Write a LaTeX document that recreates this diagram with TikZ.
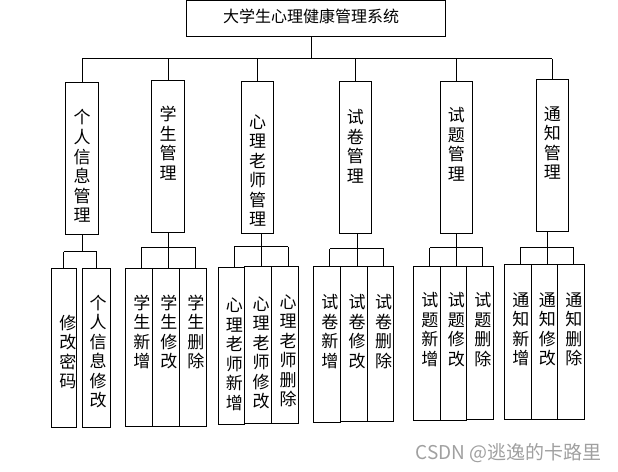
\documentclass[tikz,border=0pt]{standalone}
\usepackage{fontspec}
\newfontfamily\cjkfont{Noto Sans CJK SC}
\usetikzlibrary{positioning}
\definecolor{markgray}{HTML}{A0A0A0}

\tikzset{
  box/.style={draw, line width=1pt, inner sep=0pt},
  mod/.style={box, minimum width=32.5pt, minimum height=152pt},
  sub/.style={box, minimum width=27pt},
  vtext/.style={inner sep=0pt, align=center, font=\cjkfont\fontsize{17}{19.5}\selectfont},
  subtext/.style={vtext, xshift=3pt},
  titletext/.style={inner sep=0pt, font=\cjkfont\fontsize{16}{19}\selectfont},
  link/.style={line width=1pt},
}

\begin{document}
\begin{tikzpicture}[x=1pt,y=-1pt]
  \useasboundingbox (0,0) rectangle (618,471);

  % system
  \node[box, minimum width=259.5pt, minimum height=35.5pt] (sys) at (315.75,18.25) {};
  \node[titletext] (sys-t) at (311,16) {大学生心理健康管理系统};

  % modules
  \node[mod, minimum width=33.4pt] (gr) at (82,158) {};
  \node[mod, minimum width=33.4pt] (xs) at (168,156.5) {};
  \node[mod] (ls) at (257.5,157) {};
  \node[mod, minimum width=32pt] (sj) at (355.3,157) {};
  \node[mod, minimum width=32pt] (st) at (456.3,157) {};
  \node[mod, minimum width=32pt] (tz) at (552.3,155) {};

  \node[vtext, below=28pt of gr.north] (gr-t) {个\\人\\信\\息\\管\\理};
  \node[vtext, below=26pt of xs.north] (xs-t) {学\\生\\管\\理};
  \node[vtext, below=34pt of ls.north] (ls-t) {心\\理\\老\\师\\管\\理};
  \node[vtext, below=29pt of sj.north] (sj-t) {试\\卷\\管\\理};
  \node[vtext, below=27pt of st.north] (st-t) {试\\题\\管\\理};
  \node[vtext, below=28pt of tz.north] (tz-t) {通\\知\\管\\理};

  \path (sys.south) ++(0,22.3) coordinate (bus0);
  \draw[link] (sys-t |- sys.south) -- (sys-t |- bus0);
  \draw[link] (gr.north |- bus0) -- (tz.north |- bus0);
  \foreach \m in {gr,xs,ls,sj,st,tz}
    \draw[link] (\m.north |- bus0) -- (\m.north);

  % personal info
  \node[sub, minimum width=25pt, minimum height=159pt] (gr1) at (63.8,347.8) {};
  \node[sub, minimum width=27.6pt, minimum height=159pt] (gr2) at (96.5,347.8) {};
  \node[vtext, xshift=4pt, below=47pt of gr1.north] (gr1-t) {修\\改\\密\\码};
  \node[vtext, xshift=1.5pt, below=27pt of gr2.north] (gr2-t) {个\\人\\信\\息\\修\\改};
  \path (gr.south) ++(0,17.3) coordinate (grb);
  \draw[link] (gr.south) -- (grb);
  \draw[link] (gr1.north |- grb) -- (gr2.north |- grb);
  \foreach \c in {gr1,gr2}
    \draw[link] (\c.north |- grb) -- (\c.north);

  % students
  \node[sub, minimum height=158pt] (xs1) at (138.8,347) {};
  \node[sub, minimum height=158pt] (xs2) at (165.8,347) {};
  \node[sub, minimum height=158pt] (xs3) at (192.8,347) {};
  \node[subtext, below=27pt of xs1.north] (xs1-t) {学\\生\\新\\增};
  \node[subtext, below=27pt of xs2.north] (xs2-t) {学\\生\\修\\改};
  \node[subtext, below=27pt of xs3.north] (xs3-t) {学\\生\\删\\除};
  \path (xs.south) ++(0,14) coordinate (xsb);

  % teachers
  \node[sub, minimum width=26pt, minimum height=156.7pt] (ls1) at (231.3,345.65) {};
  \node[sub, minimum width=27.4pt, minimum height=157.3pt] (ls2) at (258,344.65) {};
  \node[sub, minimum width=26.6pt, minimum height=157.3pt] (ls3) at (285,344.65) {};
  \node[subtext, below=31pt of ls1.north] (ls1-t) {心\\理\\老\\师\\新\\增};
  \node[subtext, below=30.7pt of ls2.north] (ls2-t) {心\\理\\老\\师\\修\\改};
  \node[subtext, below=29pt of ls3.north] (ls3-t) {心\\理\\老\\师\\删\\除};
  \path (ls.south) ++(0,13) coordinate (lsb);

  % papers
  \node[sub, minimum height=156.3pt] (sj1) at (326.8,344.15) {};
  \node[sub, minimum width=27.4pt, minimum height=155pt] (sj2) at (354,343.5) {};
  \node[sub, minimum width=25.6pt, minimum height=155pt] (sj3) at (380.5,343.5) {};
  \node[subtext, below=29pt of sj1.north] (sj1-t) {试\\卷\\新\\增};
  \node[subtext, below=29pt of sj2.north] (sj2-t) {试\\卷\\修\\改};
  \node[subtext, below=29pt of sj3.north] (sj3-t) {试\\卷\\删\\除};
  \path (sj.south) ++(0,15.3) coordinate (sjb);

  % questions
  \node[sub, minimum height=154pt] (st1) at (426.8,343) {};
  \node[sub, minimum width=26pt, minimum height=154.7pt] (st2) at (453.3,343.35) {};
  \node[sub, minimum height=153pt] (st3) at (479.8,342.5) {};
  \node[subtext, below=27pt of st1.north] (st1-t) {试\\题\\新\\增};
  \node[subtext, below=27pt of st2.north] (st2-t) {试\\题\\修\\改};
  \node[subtext, below=27pt of st3.north] (st3-t) {试\\题\\删\\除};
  \path (st.south) ++(0,14.3) coordinate (stb);

  % notices
  \node[sub, minimum height=155pt] (tz1) at (517.8,341.5) {};
  \node[sub, minimum width=26pt, minimum height=155pt] (tz2) at (544.3,341.5) {};
  \node[sub, minimum height=155pt] (tz3) at (570.8,341.5) {};
  \node[subtext, below=29pt of tz1.north] (tz1-t) {通\\知\\新\\增};
  \node[subtext, below=29pt of tz2.north] (tz2-t) {通\\知\\修\\改};
  \node[subtext, below=29pt of tz3.north] (tz3-t) {通\\知\\删\\除};
  \path (tz.south) ++(0,15.7) coordinate (tzb);

  % links to the three-part groups
  \foreach \g in {xs,ls,sj,st,tz} {
    \draw[link] (\g2-t |- \g.south) -- (\g2-t |- \g b);
    \draw[link] (\g1-t |- \g b) -- (\g3-t |- \g b);
    \foreach \i in {1,2,3}
      \draw[link] (\g\i-t |- \g b) -- (\g\i-t |- \g\i.north);
  }

  \node[text=markgray, inner sep=0pt, font=\cjkfont\fontsize{19}{21}\selectfont] (mark) at (508.5,453) {CSDN @逃逸的卡路里};
\end{tikzpicture}
\end{document}
